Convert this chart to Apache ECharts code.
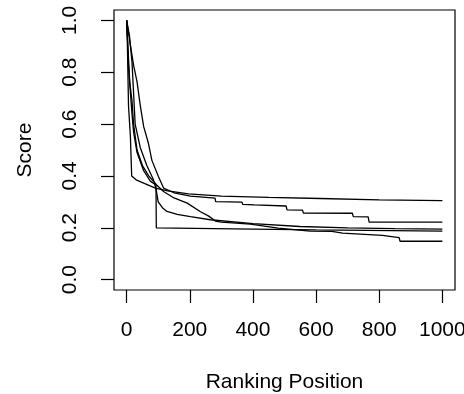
<!DOCTYPE html>
<html>
<head>
<meta charset="utf-8">
<script src="https://cdn.jsdelivr.net/npm/echarts@6/dist/echarts.min.js"></script>
<style>
  html, body { margin: 0; padding: 0; background: #fff; }
  #chart { width: 464px; height: 394px; }
</style>
</head>
<body>
<div id="chart"></div>
<script>
const xTicks = [0, 200, 400, 600, 800, 1000];
const yTicks = [0, 0.2, 0.4, 0.6, 0.8, 1.0];

// [ranking position, score]
const runA = [[0, 1.0], [2, 0.93], [6, 0.67], [12, 0.55], [16, 0.40], [30, 0.385], [54, 0.372], [91, 0.353],
  [130, 0.342], [196, 0.331], [300, 0.322], [450, 0.317], [613, 0.313], [800, 0.308], [1000, 0.305]];
const runB = [[0, 1.0], [3, 0.92], [6, 0.82], [12, 0.72], [17, 0.64], [22, 0.57], [33, 0.49], [54, 0.42],
  [75, 0.38], [93, 0.365], [94, 0.2], [96, 0.197], [400, 0.195], [600, 0.192], [1000, 0.187]];
const runC = [[0, 1.0], [12, 0.904], [22, 0.827], [33, 0.763], [43, 0.673], [54, 0.59], [69, 0.526], [80, 0.46],
  [101, 0.397], [117, 0.353], [150, 0.335], [202, 0.322], [280, 0.314], [282, 0.301], [365, 0.299], [368, 0.29],
  [405, 0.288], [408, 0.285], [505, 0.284], [508, 0.269], [557, 0.268], [560, 0.257], [715, 0.256], [718, 0.243],
  [765, 0.242], [768, 0.222], [1000, 0.222]];
const runD = [[0, 1.0], [9, 0.94], [17, 0.84], [22, 0.72], [27, 0.6], [43, 0.51], [64, 0.44], [85, 0.385],
  [93, 0.35], [100, 0.3], [115, 0.275], [128, 0.263], [160, 0.252], [202, 0.243], [265, 0.231], [400, 0.216],
  [549, 0.205], [700, 0.2], [850, 0.197], [1000, 0.195]];
const runE = [[0, 1.0], [4, 0.9], [10, 0.76], [17, 0.69], [22, 0.6], [33, 0.5], [50, 0.44], [70, 0.4],
  [95, 0.365], [117, 0.34], [150, 0.315], [192, 0.295], [234, 0.262], [260, 0.245], [281, 0.226], [300, 0.222],
  [392, 0.214], [480, 0.199], [581, 0.187], [650, 0.186], [652, 0.18], [684, 0.179], [686, 0.173], [810, 0.171],
  [813, 0.164], [863, 0.162], [866, 0.148], [1000, 0.148]];

const runs = [runA, runB, runC, runD, runE];

const font = '"Liberation Sans", Arial, Helvetica, sans-serif';
const black = "#000";

const chart = echarts.init(document.getElementById("chart"), null, { renderer: "canvas" });

chart.setOption({
  animation: false,
  backgroundColor: "#fff",
  textStyle: { fontFamily: font, color: black },
  grid: {
    left: 114,
    top: 10,
    width: 341,
    height: 280,
    show: true,
    borderColor: black,
    borderWidth: 1.2,
    outerBoundsMode: "none",
  },
  xAxis: {
    type: "value",
    min: -40,
    max: 1040,
    name: "Ranking Position",
    nameLocation: "middle",
    nameGap: 92,
    nameTextStyle: { fontSize: 21, color: black, fontFamily: font, verticalAlign: "middle" },
    // keep the axis on the box edge, R style
    axisLine: { show: false, onZero: false },
    splitLine: { show: false },
    axisTick: {
      show: true,
      inside: false,
      length: 13,
      customValues: xTicks,
      lineStyle: { color: black, width: 1.2 },
    },
    axisLabel: {
      customValues: xTicks,
      margin: 40,
      fontSize: 21,
      color: black,
      fontFamily: font,
      verticalAlign: "middle",
      formatter: (v) => String(v),
    },
  },
  yAxis: {
    type: "value",
    min: -0.04,
    max: 1.04,
    name: "Score",
    nameLocation: "middle",
    nameRotate: 90,
    nameGap: 89,
    nameTextStyle: { fontSize: 21, color: black, fontFamily: font, align: "center", verticalAlign: "middle" },
    axisLine: { show: false, onZero: false },
    splitLine: { show: false },
    axisTick: {
      show: true,
      inside: false,
      length: 13,
      customValues: yTicks,
      lineStyle: { color: black, width: 1.2 },
    },
    axisLabel: {
      customValues: yTicks,
      rotate: 90,
      margin: 44,
      fontSize: 21,
      color: black,
      fontFamily: font,
      align: "center",
      verticalAlign: "middle",
      formatter: (v) => v.toFixed(1),
    },
  },
  series: runs.map((data) => ({
    type: "line",
    data,
    showSymbol: false,
    symbol: "none",
    silent: true,
    lineStyle: { color: black, width: 1.3 },
  })),
});
</script>
</body>
</html>
